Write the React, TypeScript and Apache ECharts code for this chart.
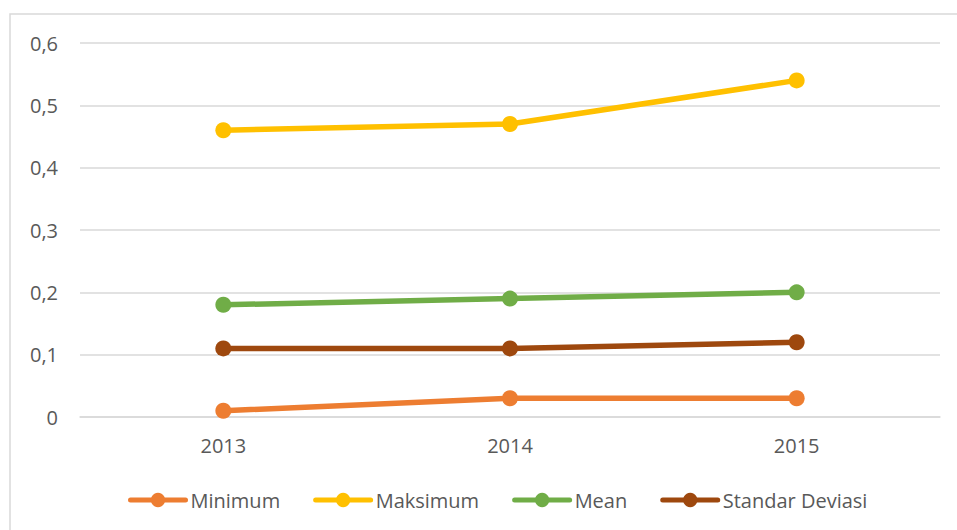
import React, { useEffect, useRef } from "react";
import * as echarts from "echarts";

const categories = ["2013", "2014", "2015"];
const minimum = [0.01, 0.03, 0.03];
const maksimum = [0.46, 0.47, 0.54];
const mean = [0.18, 0.19, 0.2];
const stdev = [0.11, 0.11, 0.12];

const seriesNames = ["Minimum", "Maksimum", "Mean", "Standar Deviasi"];
const seriesData = [minimum, maksimum, mean, stdev];
const colors = ["#ED7D31", "#FFC000", "#70AD47", "#9E480E"];

export default function App() {
  const ref = useRef<HTMLDivElement>(null);
  useEffect(() => {
    const chart = echarts.init(ref.current!, null, { renderer: "svg" });
    const font = "'Open Sans', 'Liberation Sans', sans-serif";
    chart.setOption({
      animation: false,
      textStyle: { fontFamily: font },
      graphic: [
        {
          type: "rect",
          shape: { x: 10, y: 14, width: 1000, height: 600 },
          style: { fill: "none", stroke: "#d9d9d9", lineWidth: 1.5 },
          silent: true,
        },
      ],
      grid: { left: 80, right: 17, top: 43, bottom: 113 },
      legend: {
        top: 485,
        left: 123,
        itemWidth: 55,
        itemHeight: 18,
        itemGap: 33,
        lineStyle: { width: 5, cap: "round" },
        textStyle: { color: "#595959", fontSize: 20, fontFamily: font },
        data: seriesNames,
      },
      xAxis: {
        type: "category",
        data: categories,
        boundaryGap: true,
        axisLine: { show: true, lineStyle: { color: "#d9d9d9", width: 1.5 } },
        axisTick: { show: false },
        axisLabel: { color: "#595959", fontSize: 20, margin: 18, fontFamily: font },
      },
      yAxis: {
        type: "value",
        min: 0,
        max: 0.6,
        interval: 0.1,
        axisLine: { show: false },
        axisTick: { show: false },
        splitLine: { lineStyle: { color: "#d9d9d9", width: 1.5 } },
        axisLabel: {
          color: "#595959",
          fontSize: 20,
          margin: 22,
          fontFamily: font,
          formatter: (v: number) => (Math.round(v * 10) / 10).toString().replace(".", ","),
        },
      },
      series: seriesNames.map((name, i) => ({
        name,
        type: "line",
        data: seriesData[i],
        symbol: "circle",
        symbolSize: 16,
        color: colors[i],
        lineStyle: { width: 5.5, color: colors[i], cap: "round" },
        itemStyle: { color: colors[i] },
      })),
    });
    return () => chart.dispose();
  }, []);
  return (
    <div
      ref={ref}
      style={{ position: "fixed", left: 0, top: 0, width: 957, height: 530, background: "#fff" }}
    />
  );
}
